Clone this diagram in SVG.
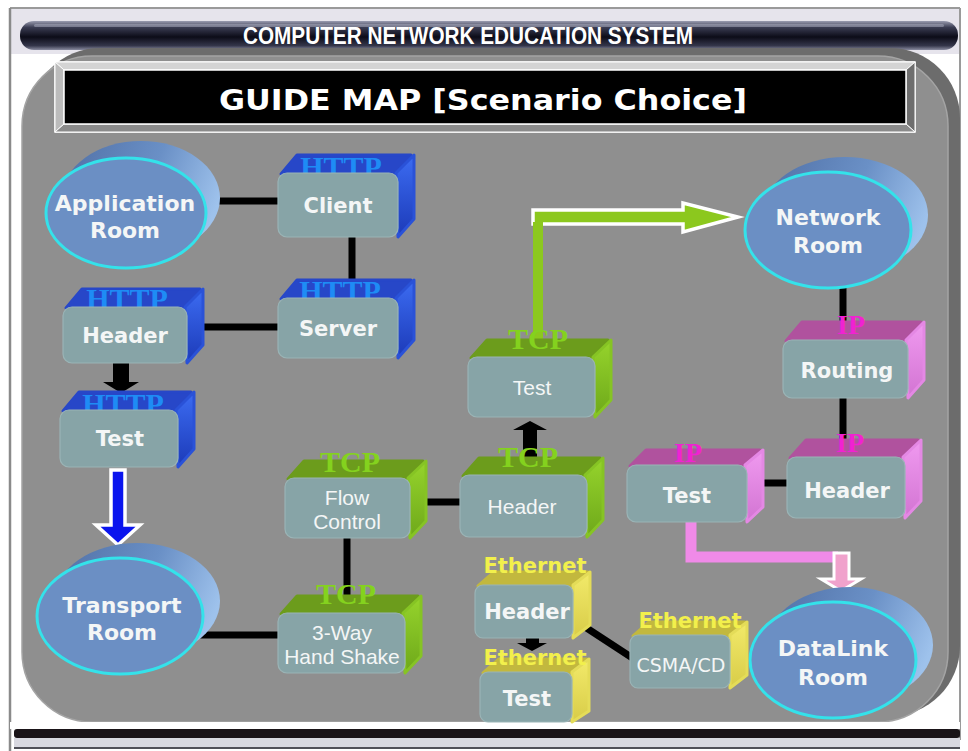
<svg xmlns="http://www.w3.org/2000/svg" width="968" height="751" viewBox="0 0 968 751">
  <defs>
    <linearGradient id="tube" x1="0" y1="0" x2="0" y2="1">
      <stop offset="0" stop-color="#9a9cb0"/>
      <stop offset="0.22" stop-color="#3a3c52"/>
      <stop offset="0.55" stop-color="#0c0c18"/>
      <stop offset="0.85" stop-color="#34364a"/>
      <stop offset="1" stop-color="#8a8ca0"/>
    </linearGradient>
    <linearGradient id="roomBack" x1="0" y1="0.2" x2="1" y2="0.5">
      <stop offset="0" stop-color="#5272a8"/>
      <stop offset="0.55" stop-color="#6a90c6"/>
      <stop offset="1" stop-color="#9ec2ec"/>
    </linearGradient>
    <linearGradient id="httpSide" x1="0" y1="0" x2="0" y2="1">
      <stop offset="0" stop-color="#3c6cf2"/>
      <stop offset="1" stop-color="#1c3ab8"/>
    </linearGradient>
    <linearGradient id="tcpSide" x1="0" y1="0" x2="0" y2="1">
      <stop offset="0" stop-color="#96d42c"/>
      <stop offset="1" stop-color="#6ea81a"/>
    </linearGradient>
    <linearGradient id="ipSide" x1="0" y1="0" x2="0" y2="1">
      <stop offset="0" stop-color="#f09af0"/>
      <stop offset="1" stop-color="#d274d2"/>
    </linearGradient>
    <linearGradient id="ethSide" x1="0" y1="0" x2="0" y2="1">
      <stop offset="0" stop-color="#f2ea6a"/>
      <stop offset="1" stop-color="#d8cc48"/>
    </linearGradient>
    <style>
      .front { fill:#87a4a7; stroke:#9ab4b6; stroke-width:1.2; }
      .face { stroke-linejoin:round; stroke-width:3; }
      .http .top { fill:#2747c8; stroke:#2747c8; }
      .http .side { fill:url(#httpSide); stroke:#2a52d8; }
      .tcp .top { fill:#6c9c1c; stroke:#6c9c1c; }
      .tcp .side { fill:url(#tcpSide); stroke:#86c424; }
      .ip .top { fill:#b0529e; stroke:#b0529e; }
      .ip .side { fill:url(#ipSide); stroke:#e488e4; }
      .eth .top { fill:#c2b83e; stroke:#c2b83e; }
      .eth .side { fill:url(#ethSide); stroke:#e4dc58; }
      .lbl { font-family:"DejaVu Sans", Verdana, sans-serif; font-weight:bold; font-size:21px; fill:#f4f6f6; text-anchor:middle; }
      .room-lbl { font-family:"DejaVu Sans", Verdana, sans-serif; font-weight:bold; font-size:22px; fill:#f4f6f6; text-anchor:middle; }
      .thin { font-family:"Liberation Sans", Arial, sans-serif; font-size:21px; fill:#f4f6f6; text-anchor:middle; }
      .proto { font-family:"Liberation Serif", "Times New Roman", serif; font-weight:bold; text-anchor:middle; }
      .http-p { fill:#1e8cf5; font-size:30px; }
      .tcp-p { fill:#84d21e; font-size:30px; }
      .ip-p { fill:#f022d2; font-size:28px; }
      .eth-p { font-family:"DejaVu Sans", Verdana, sans-serif; font-weight:bold; font-size:21px; fill:#f2f04c; text-anchor:middle; }
      .room-back { fill:url(#roomBack); }
      .room { fill:#6b8fc4; stroke:#34e2ea; stroke-width:3; }
      .link { stroke:#000; stroke-width:7; fill:none; }
    </style>
  </defs>

  <!-- page background and frame -->
  <rect x="0" y="0" width="968" height="751" fill="#ffffff"/>
  <rect x="10" y="8" width="950" height="46" fill="#e6e4ec"/>
  <line x1="10" y1="8" x2="960" y2="8" stroke="#9a9a9a" stroke-width="2"/>
  <line x1="10" y1="8" x2="10" y2="751" stroke="#8a8a8a" stroke-width="2.5"/>
  <line x1="960" y1="8" x2="960" y2="740" stroke="#9a9a9a" stroke-width="2"/>

  <!-- title tube -->
  <g id="title-bar">
    <rect x="20" y="21" width="938" height="29" rx="14" fill="url(#tube)"/>
    <rect x="34" y="24" width="910" height="3" rx="1.5" fill="#b8bacc" opacity="0.45"/>
    <text x="468" y="44" font-family="'Liberation Sans', Arial, sans-serif" font-weight="bold" font-size="24" fill="#ffffff" text-anchor="middle" textLength="450" lengthAdjust="spacingAndGlyphs">COMPUTER NETWORK EDUCATION SYSTEM</text>
  </g>

  <!-- grey board with darker rim -->
  <rect x="30" y="48" width="930" height="668" rx="70" fill="#6c6c6c"/>
  <rect x="22" y="56" width="926" height="666" rx="70" fill="#8f8f8f" stroke="#a4a4a4" stroke-width="1.5"/>

  <!-- bottom strip -->
  <rect x="10" y="722" width="950" height="7" fill="#ffffff"/>
  <rect x="14" y="729" width="946" height="9" rx="3" fill="#1a1418"/>
  <rect x="14" y="738" width="946" height="10" fill="#d8d8e0"/>
  <line x1="14" y1="748" x2="960" y2="748" stroke="#505058" stroke-width="2"/>

  <!-- bevelled header plate -->
  <g id="guide-map">
    <rect x="55" y="62" width="860" height="70" fill="#9c9c9c" stroke="#ffffff" stroke-width="1.5"/>
    <polygon points="55,62 915,62 906,70 64,70" fill="#d4d4d4" stroke="#ffffff" stroke-width="1"/>
    <polygon points="55,62 64,70 64,124 55,132" fill="#bcbcbc" stroke="#ffffff" stroke-width="1"/>
    <polygon points="915,62 915,132 906,124 906,70" fill="#6e6e6e" stroke="#ffffff" stroke-width="1"/>
    <polygon points="55,132 64,124 906,124 915,132" fill="#8a8a8a" stroke="#ffffff" stroke-width="1"/>
    <rect x="64" y="70" width="842" height="54" fill="#000000" stroke="#ffffff" stroke-width="1.5"/>
    <text x="483" y="110" font-family="'DejaVu Sans', Verdana, sans-serif" font-weight="bold" font-size="29" fill="#ffffff" text-anchor="middle" textLength="528" lengthAdjust="spacingAndGlyphs">GUIDE MAP [Scenario Choice]</text>
  </g>

  <!-- connectors -->
  <g id="connectors">
    <line class="link" x1="218" y1="201" x2="280" y2="201"/>
    <line class="link" x1="352" y1="236" x2="352" y2="282"/>
    <line class="link" x1="202" y1="327" x2="280" y2="327"/>
    <polygon points="113,362 129,362 129,382 139,382 121,393 103,382 113,382" fill="#000"/>
    <polygon points="111,470 125,470 125,525 140,525 118,545 96,525 111,525" fill="#0a14ee" stroke="#ffffff" stroke-width="3.5"/>
    <line class="link" x1="200" y1="635" x2="280" y2="635"/>
    <line class="link" x1="347" y1="536" x2="347" y2="598"/>
    <line class="link" x1="424" y1="502" x2="462" y2="502"/>
    <polygon points="523,460 537,460 537,430 547,430 530,421 513,430 523,430" fill="#000"/>
    <polygon points="533,210 683,210 683,203 738,217 683,232 683,224 533,224" fill="#8cc81e" stroke="#ffffff" stroke-width="3.5" stroke-linejoin="miter"/>
    <rect x="533" y="222" width="10" height="122" fill="#8cc81e"/>
    <line class="link" x1="843" y1="286" x2="843" y2="324"/>
    <line class="link" x1="843" y1="396" x2="843" y2="442"/>
    <line class="link" x1="760" y1="483" x2="789" y2="483"/>
    <polyline points="691,520 691,557 838,557" fill="none" stroke="#f08ae8" stroke-width="11"/>
    <polygon points="834,553 849,553 849,579 861,579 841,591 821,579 834,579" fill="#f0a2cc" stroke="#ffffff" stroke-width="3"/>
    <polygon points="526,636 539,636 539,643 547,643 532,651 517,643 526,643" fill="#000"/>
    <line class="link" x1="582" y1="625" x2="634" y2="659"/>
  </g>

  <!-- rooms -->
  <g id="application-room">
    <ellipse class="room-back" cx="141" cy="198" rx="79" ry="57"/>
    <ellipse class="room" cx="126" cy="213" rx="80" ry="55"/>
    <text class="room-lbl" x="125" y="211">Application</text>
    <text class="room-lbl" x="125" y="238">Room</text>
  </g>
  <g id="transport-room">
    <ellipse class="room-back" cx="137" cy="601" rx="83" ry="58"/>
    <ellipse class="room" cx="120" cy="616" rx="83" ry="58"/>
    <text class="room-lbl" x="122" y="613">Transport</text>
    <text class="room-lbl" x="122" y="640">Room</text>
  </g>
  <g id="network-room">
    <ellipse class="room-back" cx="845" cy="215" rx="83" ry="58"/>
    <ellipse class="room" cx="828" cy="230" rx="83" ry="58"/>
    <text class="room-lbl" x="828" y="225">Network</text>
    <text class="room-lbl" x="828" y="253">Room</text>
  </g>
  <g id="datalink-room">
    <ellipse class="room-back" cx="850" cy="645" rx="83" ry="58"/>
    <ellipse class="room" cx="833" cy="660" rx="83" ry="58"/>
    <text class="room-lbl" x="833" y="656">DataLink</text>
    <text class="room-lbl" x="833" y="685">Room</text>
  </g>

  <!-- HTTP blocks -->
  <g id="http-client" class="http">
    <polygon class="face top" points="281,174 297,155 411,155 395,174"/>
    <polygon class="face side" points="396,173 414,155 414,219 398,237"/>
    <text class="proto http-p" x="341" y="177">HTTP</text>
    <rect class="front" x="278" y="173" width="120" height="64" rx="9"/>
    <text class="lbl" x="338" y="213">Client</text>
  </g>
  <g id="http-server" class="http">
    <polygon class="face top" points="281,299 297,280 411,280 395,299"/>
    <polygon class="face side" points="396,298 414,280 414,340 398,358"/>
    <text class="proto http-p" x="340" y="301">HTTP</text>
    <rect class="front" x="278" y="298" width="120" height="60" rx="9"/>
    <text class="lbl" x="338" y="336">Server</text>
  </g>
  <g id="http-header" class="http">
    <polygon class="face top" points="66,308 82,289 200,289 184,308"/>
    <polygon class="face side" points="185,307 203,289 203,345 187,363"/>
    <text class="proto http-p" x="127" y="309">HTTP</text>
    <rect class="front" x="63" y="307" width="124" height="56" rx="9"/>
    <text class="lbl" x="125" y="343">Header</text>
  </g>
  <g id="http-test" class="http">
    <polygon class="face top" points="63,411 79,392 191,392 175,411"/>
    <polygon class="face side" points="176,410 194,392 194,449 178,467"/>
    <text class="proto http-p" x="123" y="414">HTTP</text>
    <rect class="front" x="60" y="410" width="118" height="57" rx="9"/>
    <text class="lbl" x="120" y="446">Test</text>
  </g>

  <!-- TCP blocks -->
  <g id="tcp-test" class="tcp">
    <polygon class="face top" points="471,358 487,340 608,340 592,358"/>
    <polygon class="face side" points="593,357 611,340 611,400 595,417"/>
    <text class="proto tcp-p" x="538" y="349">TCP</text>
    <rect class="front" x="468" y="357" width="127" height="60" rx="9"/>
    <text class="thin" x="532" y="395">Test</text>
  </g>
  <g id="tcp-header" class="tcp">
    <polygon class="face top" points="463,476 479,458 600,458 584,476"/>
    <polygon class="face side" points="585,475 603,458 603,520 587,537"/>
    <text class="proto tcp-p" x="528" y="467">TCP</text>
    <rect class="front" x="460" y="475" width="127" height="62" rx="9"/>
    <text class="thin" x="522" y="514">Header</text>
  </g>
  <g id="tcp-flow-control" class="tcp">
    <polygon class="face top" points="288,479 304,461 423,461 407,479"/>
    <polygon class="face side" points="408,478 426,461 426,521 410,538"/>
    <text class="proto tcp-p" x="350" y="472">TCP</text>
    <rect class="front" x="285" y="478" width="125" height="60" rx="9"/>
    <text class="thin" x="347" y="505">Flow</text>
    <text class="thin" x="347" y="529">Control</text>
  </g>
  <g id="tcp-handshake" class="tcp">
    <polygon class="face top" points="281,614 297,596 418,596 402,614"/>
    <polygon class="face side" points="403,613 421,596 421,656 405,673"/>
    <text class="proto tcp-p" x="346" y="604">TCP</text>
    <rect class="front" x="278" y="613" width="127" height="60" rx="9"/>
    <text class="thin" x="342" y="640">3-Way</text>
    <text class="thin" x="342" y="664">Hand Shake</text>
  </g>

  <!-- IP blocks -->
  <g id="ip-routing" class="ip">
    <polygon class="face top" points="786,341 802,322 921,322 905,341"/>
    <polygon class="face side" points="906,340 924,322 924,380 908,398"/>
    <text class="proto ip-p" x="851" y="334">IP</text>
    <rect class="front" x="783" y="340" width="125" height="58" rx="9"/>
    <text class="lbl" x="847" y="378">Routing</text>
  </g>
  <g id="ip-header" class="ip">
    <polygon class="face top" points="790,458 806,440 918,440 902,458"/>
    <polygon class="face side" points="903,457 921,440 921,501 905,518"/>
    <text class="proto ip-p" x="850" y="452">IP</text>
    <rect class="front" x="787" y="457" width="118" height="61" rx="9"/>
    <text class="lbl" x="847" y="498">Header</text>
  </g>
  <g id="ip-test" class="ip">
    <polygon class="face top" points="630,466 646,450 760,450 744,466"/>
    <polygon class="face side" points="745,465 763,450 763,507 747,522"/>
    <text class="proto ip-p" x="688" y="462">IP</text>
    <rect class="front" x="627" y="465" width="120" height="57" rx="9"/>
    <text class="lbl" x="687" y="503">Test</text>
  </g>

  <!-- Ethernet blocks -->
  <g id="eth-header" class="eth">
    <polygon class="face top" points="478,586 494,572 588,572 572,586"/>
    <polygon class="face side" points="573,585 590,572 590,625 573,638"/>
    <text class="eth-p" x="535" y="573">Ethernet</text>
    <rect class="front" x="475" y="585" width="98" height="53" rx="8"/>
    <text class="lbl" x="527" y="619">Header</text>
  </g>
  <g id="eth-test" class="eth">
    <polygon class="face top" points="483,673 499,659 587,659 571,673"/>
    <polygon class="face side" points="572,672 589,659 589,711 572,722"/>
    <text class="eth-p" x="535" y="665">Ethernet</text>
    <rect class="front" x="480" y="672" width="92" height="50" rx="8"/>
    <text class="lbl" x="527" y="706">Test</text>
  </g>
  <g id="eth-csma" class="eth">
    <polygon class="face top" points="633,636 649,622 745,622 729,636"/>
    <polygon class="face side" points="730,635 747,622 747,675 730,688"/>
    <text class="eth-p" x="690" y="628">Ethernet</text>
    <rect class="front" x="630" y="635" width="100" height="53" rx="8"/>
    <text x="681" y="672" font-family="'DejaVu Sans', Verdana, sans-serif" font-size="19" fill="#f4f6f6" text-anchor="middle">CSMA/CD</text>
  </g>
</svg>
